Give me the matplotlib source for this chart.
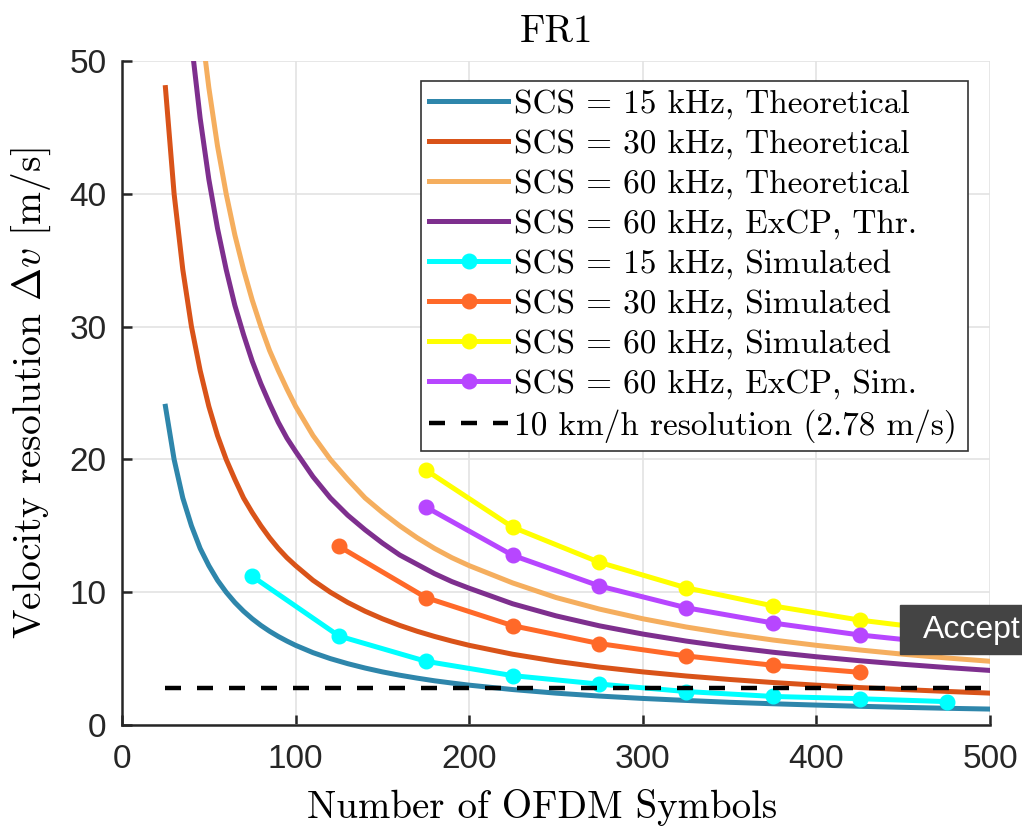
import numpy as np
import matplotlib
matplotlib.use('Agg')
import matplotlib.pyplot as plt
from matplotlib.patches import Rectangle

plt.rcParams['mathtext.fontset'] = 'cm'
plt.rcParams['axes.unicode_minus'] = False

#Number of OFDM symbols used for the theoretical curves
n_theory = [25, 30, 35, 40, 45, 50, 55, 60, 65, 70, 75, 80, 85, 90, 95, 100,
            110, 120, 130, 140, 150, 160, 170, 180, 190, 200,
            225, 250, 275, 300, 325, 350, 375, 400, 425, 450, 475, 500]
thr_15 = [24.0, 20.0, 17.1, 15.0, 13.3, 12.0, 10.9, 10.0, 9.23, 8.57, 8.0, 7.5, 7.06, 6.67, 6.32, 6.0,
          5.45, 5.0, 4.62, 4.29, 4.0, 3.75, 3.53, 3.33, 3.16, 3.0,
          2.67, 2.4, 2.18, 2.0, 1.85, 1.71, 1.6, 1.5, 1.41, 1.33, 1.26, 1.2]
thr_30 = [48.0, 40.0, 34.3, 30.0, 26.7, 24.0, 21.8, 20.0, 18.5, 17.1, 16.0, 15.0, 14.1, 13.3, 12.6, 12.0,
          10.9, 10.0, 9.23, 8.57, 8.0, 7.5, 7.06, 6.67, 6.32, 6.0,
          5.33, 4.8, 4.36, 4.0, 3.69, 3.43, 3.2, 3.0, 2.82, 2.67, 2.53, 2.4]
thr_60 = [96.0, 80.0, 68.6, 60.0, 53.3, 48.0, 43.6, 40.0, 36.9, 34.3, 32.0, 30.0, 28.2, 26.7, 25.3, 24.0,
          21.8, 20.0, 18.5, 17.1, 16.0, 15.0, 14.1, 13.3, 12.6, 12.0,
          10.7, 9.6, 8.73, 8.0, 7.38, 6.86, 6.4, 6.0, 5.65, 5.33, 5.05, 4.8]
thr_60_excp = [82.2, 68.5, 58.7, 51.4, 45.7, 41.1, 37.4, 34.3, 31.6, 29.4, 27.4, 25.7, 24.2, 22.8, 21.6, 20.6,
               18.7, 17.1, 15.8, 14.7, 13.7, 12.8, 12.1, 11.4, 10.8, 10.3,
               9.13, 8.22, 7.47, 6.85, 6.32, 5.87, 5.48, 5.14, 4.84, 4.57, 4.33, 4.11]

#simulated points
n_sim_15 = [75, 125, 175, 225, 275, 325, 375, 425, 475]
sim_15 = [11.2, 6.7, 4.8, 3.72, 3.08, 2.52, 2.15, 1.98, 1.76]
n_sim_30 = [125, 175, 225, 275, 325, 375, 425]
sim_30 = [13.45, 9.6, 7.48, 6.13, 5.2, 4.5, 3.97]
n_sim_60 = [175, 225, 275, 325, 375, 425, 475]
sim_60 = [19.2, 14.9, 12.25, 10.33, 8.97, 7.9, 7.1]
sim_60_excp = [16.42, 12.78, 10.47, 8.83, 7.68, 6.78, 6.1]

#10 km/h reference
n_ref = [25, 500]
ref_res = [2.78, 2.78]

labels = ['SCS = 15 kHz, Theoretical',
          'SCS = 30 kHz, Theoretical',
          'SCS = 60 kHz, Theoretical',
          'SCS = 60 kHz, ExCP, Thr.',
          'SCS = 15 kHz, Simulated',
          'SCS = 30 kHz, Simulated',
          'SCS = 60 kHz, Simulated',
          'SCS = 60 kHz, ExCP, Sim.',
          '10 km/h resolution (2.78 m/s)']

fig = plt.figure(figsize=(10.22, 8.32), dpi=100)
ax = fig.add_axes([0.1194, 0.1286, 0.8493, 0.798])

lw = 3.6
ax.plot(n_theory, thr_15, color='#2e86ab', lw=lw, label=labels[0])
ax.plot(n_theory, thr_30, color='#d95319', lw=lw, label=labels[1])
ax.plot(n_theory, thr_60, color='#f5ae5e', lw=lw, label=labels[2])
ax.plot(n_theory, thr_60_excp, color='#7e2f8e', lw=lw, label=labels[3])
ms = 10.5
ax.plot(n_sim_15, sim_15, color='#00ffff', lw=lw, marker='o', ms=ms, label=labels[4])
ax.plot(n_sim_30, sim_30, color='#ff6929', lw=lw, marker='o', ms=ms, label=labels[5])
ax.plot(n_sim_60, sim_60, color='#ffff00', lw=lw, marker='o', ms=ms, label=labels[6])
ax.plot(n_sim_60, sim_60_excp, color='#b746ff', lw=lw, marker='o', ms=ms, label=labels[7])
ax.plot(n_ref, ref_res, color='black', lw=3.2, dashes=(3.6, 3.6), label=labels[8])

ax.set_xlim(0, 500)
ax.set_ylim(0, 50)
ax.set_xticks([0, 100, 200, 300, 400, 500])
ax.set_yticks([0, 10, 20, 30, 40, 50])
ax.grid(True, color='#e3e3e3', lw=1.2)
ax.set_axisbelow(True)
for s in ['top', 'right']:
    ax.spines[s].set_visible(False)
for s in ['left', 'bottom']:
    ax.spines[s].set_color('#262626')
    ax.spines[s].set_linewidth(1.8)
ax.tick_params(direction='in', length=7, width=1.8, color='#262626',
               labelsize=24, labelcolor='#262626')
ax.tick_params(axis='x', pad=14)
ax.tick_params(axis='y', pad=11)
for t in ax.get_xticklabels() + ax.get_yticklabels():
    t.set_family('Liberation Sans')

cm_font = 'cmr10'
ax.set_xlabel('Number of OFDM Symbols', fontsize=28, family=cm_font)
ax.xaxis.set_label_coords(0.484, -0.097)
ax.set_ylabel(r'Velocity resolution $\Delta v$ [m/s]', fontsize=28.5, family=cm_font, labelpad=12)
ax.set_title('FR1', fontsize=28, family=cm_font, pad=14)

#legend box stretched to the width seen on the figure
leg = ax.legend(loc='upper left', bbox_to_anchor=(0.3445, 0.5, 0.6302, 0.4699), mode='expand',
                prop={'family': cm_font, 'size': 24},
                fancybox=False, edgecolor='#333333', framealpha=1,
                handlelength=2.35, handletextpad=0.2, labelspacing=0.3,
                borderpad=0.25, borderaxespad=0)
leg.get_frame().set_linewidth(1.2)

#overlay button seen on the screenshot
fig.patches.append(Rectangle((900/1022, 1-654/832), 122/1022, 49/832,
                             transform=fig.transFigure, color='#444444', zorder=10))
fig.text(923/1022, 1-630/832, 'Accept', color='white', fontsize=23,
         family='Liberation Sans', va='center', ha='left', zorder=11)

fig.savefig('out.png', dpi=100)
